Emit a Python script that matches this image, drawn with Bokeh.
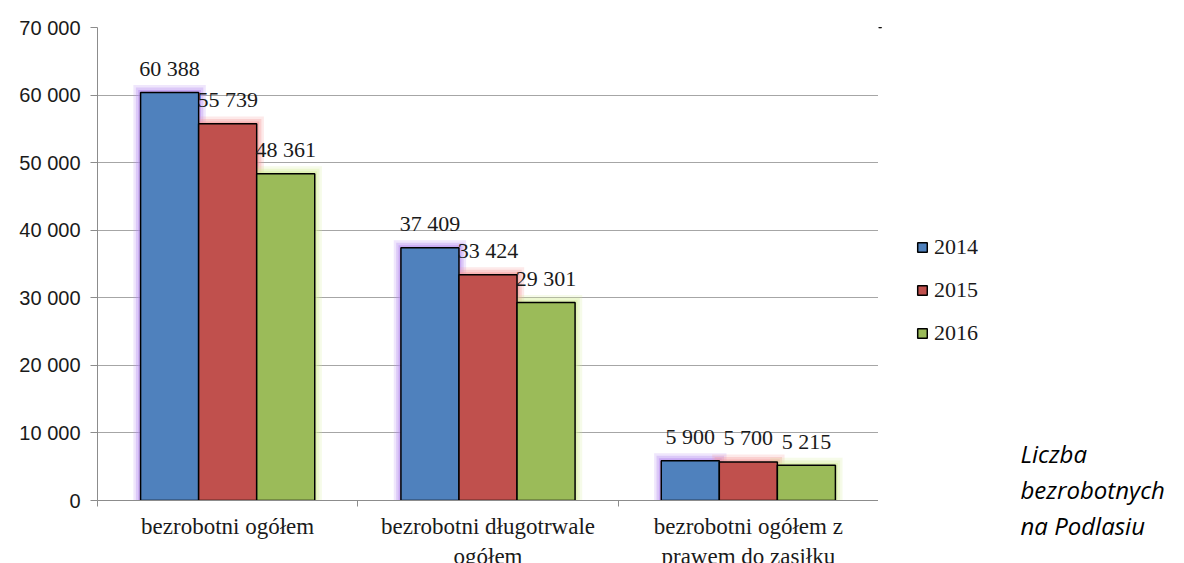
from bokeh.plotting import figure
from bokeh.layouts import row
from bokeh.models import ColumnDataSource, FixedTicker, Legend, LegendItem, Label, Range1d
from bokeh.core.properties import value
from bokeh.embed import file_html
from bokeh.resources import INLINE

categories = ["bezrobotni ogółem", "bezrobotni długotrwale\nogółem", "bezrobotni ogółem z\nprawem do zasiłku"]
years = ["2014", "2015", "2016"]
v2014 = [60388, 37409, 5900]
v2015 = [55739, 33424, 5700]
v2016 = [48361, 29301, 5215]
y_ticks = [0, 10000, 20000, 30000, 40000, 50000, 60000, 70000]
y_tick_labels = ["0", "10 000", "20 000", "30 000", "40 000", "50 000", "60 000", "70 000"]
annotation = [" Liczba", "bezrobotnych", "na Podlasiu"]

colors = ["#4F81BD", "#C0504D", "#9BBB59"]
glows = ["#B58CF0", "#F79A9A", "#D6EE9A"]
series = [v2014, v2015, v2016]

SERIF = "Liberation Serif"
BAR_W = 0.223

p = figure(frame_width=781, frame_height=473, x_range=(0, 3), y_range=(0, 70000),
           output_backend="svg", toolbar_location=None,
           min_border_left=97, min_border_right=0, min_border_top=27, min_border_bottom=63)
p.outline_line_color = None
p.background_fill_color = "white"
p.border_fill_color = "white"

centers = [i + 0.5 for i in range(len(categories))]
offsets = [-BAR_W, 0.0, BAR_W]

def fmt(v):
    return f"{v:,}".replace(",", " ")

for k in range(3):
    xs = [c + offsets[k] for c in centers]
    for extra_w, extra_t, a in [(0.055, 1100, 0.22), (0.036, 720, 0.32), (0.018, 350, 0.5)]:
        gsrc = ColumnDataSource(dict(x=xs, top=[v + extra_t for v in series[k]]))
        p.vbar(x="x", top="top", bottom=0, width=BAR_W + extra_w, source=gsrc,
               fill_color=glows[k], fill_alpha=a, line_color=None)
sources = []
for k in range(3):
    xs = [c + offsets[k] for c in centers]
    src = ColumnDataSource(dict(x=xs, top=series[k], lab=[fmt(v) for v in series[k]]))
    sources.append(src)
    p.vbar(x="x", top="top", bottom=0, width=BAR_W, source=src,
           fill_color=colors[k], line_color="black", line_width=1.5)
    p.text(x="x", y="top", text="lab", source=src, text_align="center", text_baseline="middle",
           y_offset=-24, text_font=value(SERIF), text_font_size="22px", text_color="#1a1a1a")

p.yaxis.ticker = FixedTicker(ticks=y_ticks)
p.yaxis.major_label_overrides = {t: l for t, l in zip(y_ticks, y_tick_labels)}
p.yaxis.major_label_text_font = "Liberation Sans"
p.yaxis.major_label_text_font_size = "20px"
p.yaxis.major_label_text_color = "#1a1a1a"
p.yaxis.axis_line_color = "#8c8c8c"
p.yaxis.major_tick_line_color = "#8c8c8c"
p.yaxis.major_tick_out = 7
p.yaxis.major_tick_in = 0
p.yaxis.minor_tick_line_color = None
p.yaxis.major_label_standoff = 10

p.xaxis.ticker = FixedTicker(ticks=centers, minor_ticks=[0, 1, 2, 3])
p.xaxis.major_label_overrides = {c: n for c, n in zip(centers, categories)}
p.xaxis.major_label_text_font = SERIF
p.xaxis.major_label_text_font_size = "23px"
p.xaxis.major_label_text_color = "#1a1a1a"
p.xaxis.axis_line_color = "#8c8c8c"
p.xaxis.major_tick_line_color = None
p.xaxis.minor_tick_line_color = "#8c8c8c"
p.xaxis.minor_tick_out = 6
p.xaxis.minor_tick_in = 0
p.xaxis.major_label_standoff = 7

p.xgrid.grid_line_color = None
p.ygrid.grid_line_color = "#a6a6a6"
p.ygrid.ticker = FixedTicker(ticks=y_ticks)

# right-hand panel: legend and caption (coordinates in pixels, y from page top)
p2 = figure(frame_width=306, frame_height=536, x_range=(0, 306), y_range=(563, 27),
            output_backend="svg", toolbar_location=None,
            min_border_left=0, min_border_right=0, min_border_top=27, min_border_bottom=0)
p2.axis.visible = False
p2.grid.grid_line_color = None
p2.outline_line_color = None
p2.background_fill_color = "white"
p2.border_fill_color = "white"
# a range the bar data never reaches, so the legend-only renderers draw nothing in this panel
p2.extra_y_ranges = {"legend_only": Range1d(-2, -1)}

legend_items = []
for k in range(3):
    r = p2.vbar(x="x", top="top", bottom=0, width=BAR_W, source=sources[k],
                y_range_name="legend_only",
                fill_color=colors[k], line_color="black", line_width=1.5)
    legend_items.append(LegendItem(label=years[k], renderers=[r]))

legend = Legend(items=legend_items, location=(38, 217), orientation="vertical",
                glyph_width=12, glyph_height=12, label_height=24, spacing=17,
                padding=0, margin=0, label_standoff=6,
                label_text_font=SERIF, label_text_font_size="22px", label_text_color="#1a1a1a",
                background_fill_alpha=0, border_line_color=None)
p2.add_layout(legend)

for i, line in enumerate(annotation):
    p2.add_layout(Label(x=142, y=453 + 36 * i, text=line,
                        text_font="Open Sans", text_font_style="italic", text_font_size="24px",
                        text_baseline="middle", text_color="black"))

layout = row(p, p2, spacing=0)
open("out.html", "w").write(file_html(layout, INLINE))
